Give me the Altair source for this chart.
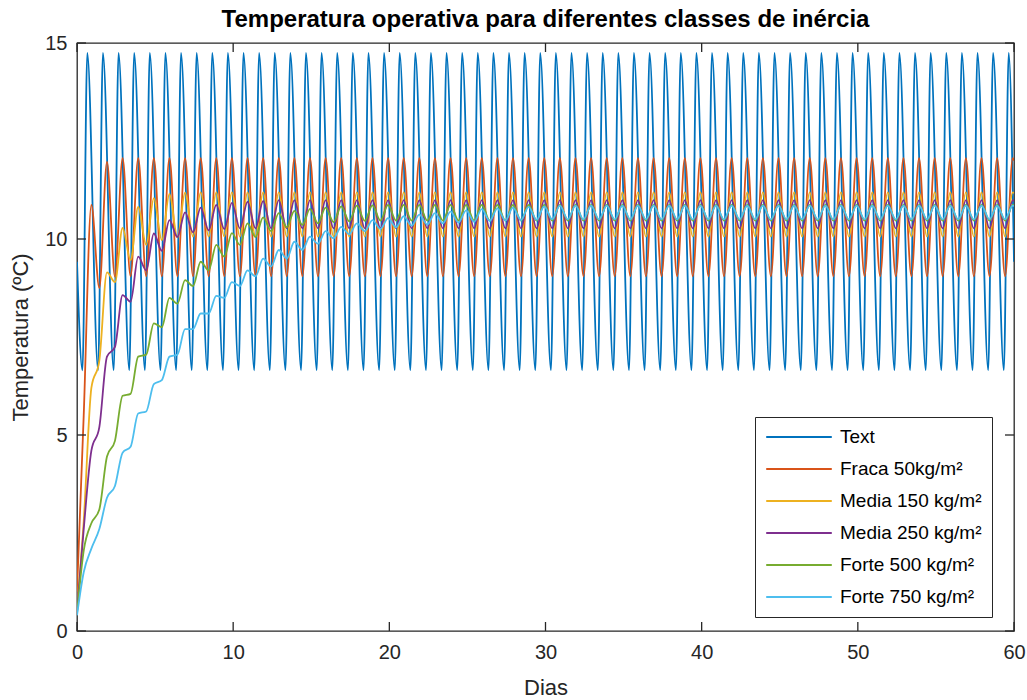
import altair as alt
import pandas as pd

# ---- series definitions -------------------------------------------------
series_names = [
    "Text",
    "Fraca 50kg/m²",
    "Media 150 kg/m²",
    "Media 250 kg/m²",
    "Forte 500 kg/m²",
    "Forte 750 kg/m²",
]
series_colors = ["#0072BD", "#D95319", "#EDB120", "#7E2F8E", "#77AC30", "#4DBEEE"]

# time of day (fraction of a day) of the daily low and high of each series
low_phase = [0.35, 0.43, 0.43, 0.43, 0.43, 0.43]
high_phase = [0.66, 0.92, 0.92, 0.92, 0.92, 0.92]

# value at t = 0 and t = 60 days
start_vals = [9.42, 1.0, 0.6, 0.5, 0.45, 0.4]
end_vals = [9.42, 12.0, 11.17, 10.97, 10.86, 10.84]

# daily lows / highs, day 0 .. 59 (ºC)
text_low = [
    6.65, 6.65, 6.65, 6.65, 6.65, 6.65, 6.65, 6.65, 6.65, 6.65,
    6.65, 6.65, 6.65, 6.65, 6.65, 6.65, 6.65, 6.65, 6.65, 6.65,
    6.65, 6.65, 6.65, 6.65, 6.65, 6.65, 6.65, 6.65, 6.65, 6.65,
    6.65, 6.65, 6.65, 6.65, 6.65, 6.65, 6.65, 6.65, 6.65, 6.65,
    6.65, 6.65, 6.65, 6.65, 6.65, 6.65, 6.65, 6.65, 6.65, 6.65,
    6.65, 6.65, 6.65, 6.65, 6.65, 6.65, 6.65, 6.65, 6.65, 6.65,
]
text_high = [
    14.75, 14.75, 14.75, 14.75, 14.75, 14.75, 14.75, 14.75, 14.75, 14.75,
    14.75, 14.75, 14.75, 14.75, 14.75, 14.75, 14.75, 14.75, 14.75, 14.75,
    14.75, 14.75, 14.75, 14.75, 14.75, 14.75, 14.75, 14.75, 14.75, 14.75,
    14.75, 14.75, 14.75, 14.75, 14.75, 14.75, 14.75, 14.75, 14.75, 14.75,
    14.75, 14.75, 14.75, 14.75, 14.75, 14.75, 14.75, 14.75, 14.75, 14.75,
    14.75, 14.75, 14.75, 14.75, 14.75, 14.75, 14.75, 14.75, 14.75, 14.75,
]
fraca_low = [
    5.5, 8.75, 9.04, 9.05, 9.05, 9.05, 9.05, 9.05, 9.05, 9.05,
    9.05, 9.05, 9.05, 9.05, 9.05, 9.05, 9.05, 9.05, 9.05, 9.05,
    9.05, 9.05, 9.05, 9.05, 9.05, 9.05, 9.05, 9.05, 9.05, 9.05,
    9.05, 9.05, 9.05, 9.05, 9.05, 9.05, 9.05, 9.05, 9.05, 9.05,
    9.05, 9.05, 9.05, 9.05, 9.05, 9.05, 9.05, 9.05, 9.05, 9.05,
    9.05, 9.05, 9.05, 9.05, 9.05, 9.05, 9.05, 9.05, 9.05, 9.05,
]
fraca_high = [
    10.87, 11.97, 12.06, 12.06, 12.06, 12.06, 12.06, 12.06, 12.06, 12.06,
    12.06, 12.06, 12.06, 12.06, 12.06, 12.06, 12.06, 12.06, 12.06, 12.06,
    12.06, 12.06, 12.06, 12.06, 12.06, 12.06, 12.06, 12.06, 12.06, 12.06,
    12.06, 12.06, 12.06, 12.06, 12.06, 12.06, 12.06, 12.06, 12.06, 12.06,
    12.06, 12.06, 12.06, 12.06, 12.06, 12.06, 12.06, 12.06, 12.06, 12.06,
    12.06, 12.06, 12.06, 12.06, 12.06, 12.06, 12.06, 12.06, 12.06, 12.06,
]
media150_low = [
    2.8, 6.9, 8.9, 9.46, 9.85, 9.97, 10.04, 10.06, 10.06, 10.06,
    10.06, 10.06, 10.06, 10.06, 10.06, 10.06, 10.06, 10.06, 10.06, 10.06,
    10.06, 10.06, 10.06, 10.06, 10.06, 10.06, 10.06, 10.06, 10.06, 10.06,
    10.06, 10.06, 10.06, 10.06, 10.06, 10.06, 10.06, 10.06, 10.06, 10.06,
    10.06, 10.06, 10.06, 10.06, 10.06, 10.06, 10.06, 10.06, 10.06, 10.06,
    10.06, 10.06, 10.06, 10.06, 10.06, 10.06, 10.06, 10.06, 10.06, 10.06,
]
media150_high = [
    6.2, 9.15, 10.28, 10.82, 11.04, 11.15, 11.18, 11.19, 11.19, 11.19,
    11.19, 11.19, 11.19, 11.19, 11.19, 11.19, 11.19, 11.19, 11.19, 11.19,
    11.19, 11.19, 11.19, 11.19, 11.19, 11.19, 11.19, 11.19, 11.19, 11.19,
    11.19, 11.19, 11.19, 11.19, 11.19, 11.19, 11.19, 11.19, 11.19, 11.19,
    11.19, 11.19, 11.19, 11.19, 11.19, 11.19, 11.19, 11.19, 11.19, 11.19,
    11.19, 11.19, 11.19, 11.19, 11.19, 11.19, 11.19, 11.19, 11.19, 11.19,
]
media250_low = [
    2.6, 5.2, 7.25, 8.4, 9.2, 9.7, 10.05, 10.17, 10.22, 10.25,
    10.27, 10.27, 10.27, 10.27, 10.27, 10.27, 10.27, 10.27, 10.27, 10.27,
    10.27, 10.27, 10.27, 10.27, 10.27, 10.27, 10.27, 10.27, 10.27, 10.27,
    10.27, 10.27, 10.27, 10.27, 10.27, 10.27, 10.27, 10.27, 10.27, 10.27,
    10.27, 10.27, 10.27, 10.27, 10.27, 10.27, 10.27, 10.27, 10.27, 10.27,
    10.27, 10.27, 10.27, 10.27, 10.27, 10.27, 10.27, 10.27, 10.27, 10.27,
]
media250_high = [
    4.6, 7.0, 8.57, 9.55, 10.14, 10.48, 10.68, 10.8, 10.87, 10.92,
    10.95, 10.97, 10.99, 10.99, 10.99, 10.99, 10.99, 10.99, 10.99, 10.99,
    10.99, 10.99, 10.99, 10.99, 10.99, 10.99, 10.99, 10.99, 10.99, 10.99,
    10.99, 10.99, 10.99, 10.99, 10.99, 10.99, 10.99, 10.99, 10.99, 10.99,
    10.99, 10.99, 10.99, 10.99, 10.99, 10.99, 10.99, 10.99, 10.99, 10.99,
    10.99, 10.99, 10.99, 10.99, 10.99, 10.99, 10.99, 10.99, 10.99, 10.99,
]
forte500_low = [
    2.05, 3.1, 4.85, 6.05, 7.05, 7.75, 8.35, 8.8, 9.2, 9.55,
    9.85, 10.05, 10.2, 10.3, 10.36, 10.4, 10.43, 10.45, 10.46, 10.47,
    10.47, 10.47, 10.47, 10.47, 10.47, 10.47, 10.47, 10.47, 10.47, 10.47,
    10.47, 10.47, 10.47, 10.47, 10.47, 10.47, 10.47, 10.47, 10.47, 10.47,
    10.47, 10.47, 10.47, 10.47, 10.47, 10.47, 10.47, 10.47, 10.47, 10.47,
    10.47, 10.47, 10.47, 10.47, 10.47, 10.47, 10.47, 10.47, 10.47, 10.47,
]
forte500_high = [
    2.75, 4.45, 6.0, 7.0, 7.85, 8.5, 8.95, 9.42, 9.85, 10.15,
    10.4, 10.55, 10.66, 10.72, 10.77, 10.8, 10.83, 10.85, 10.86, 10.87,
    10.87, 10.87, 10.87, 10.87, 10.87, 10.87, 10.87, 10.87, 10.87, 10.87,
    10.87, 10.87, 10.87, 10.87, 10.87, 10.87, 10.87, 10.87, 10.87, 10.87,
    10.87, 10.87, 10.87, 10.87, 10.87, 10.87, 10.87, 10.87, 10.87, 10.87,
    10.87, 10.87, 10.87, 10.87, 10.87, 10.87, 10.87, 10.87, 10.87, 10.87,
]
forte750_low = [
    1.5, 2.6, 3.7, 4.7, 5.6, 6.4, 7.05, 7.7, 8.1, 8.5,
    8.8, 9.05, 9.3, 9.5, 9.72, 9.88, 10.02, 10.12, 10.2, 10.26,
    10.3, 10.34, 10.37, 10.4, 10.42, 10.44, 10.46, 10.47, 10.48, 10.49,
    10.5, 10.5, 10.5, 10.5, 10.5, 10.5, 10.5, 10.5, 10.5, 10.5,
    10.5, 10.5, 10.5, 10.5, 10.5, 10.5, 10.5, 10.5, 10.5, 10.5,
    10.5, 10.5, 10.5, 10.5, 10.5, 10.5, 10.5, 10.5, 10.5, 10.5,
]
forte750_high = [
    2.1, 3.4, 4.55, 5.55, 6.3, 7.0, 7.7, 8.1, 8.55, 8.9,
    9.2, 9.5, 9.72, 9.93, 10.06, 10.2, 10.31, 10.4, 10.48, 10.53,
    10.58, 10.62, 10.66, 10.7, 10.73, 10.76, 10.78, 10.8, 10.82, 10.83,
    10.85, 10.85, 10.85, 10.85, 10.85, 10.85, 10.85, 10.85, 10.85, 10.85,
    10.85, 10.85, 10.85, 10.85, 10.85, 10.85, 10.85, 10.85, 10.85, 10.85,
    10.85, 10.85, 10.85, 10.85, 10.85, 10.85, 10.85, 10.85, 10.85, 10.85,
]

daily_lows = [text_low, fraca_low, media150_low, media250_low, forte500_low, forte750_low]
daily_highs = [text_high, fraca_high, media150_high, media250_high, forte500_high, forte750_high]

x_ticks = [0, 10, 20, 30, 40, 50, 60]
y_ticks = [0, 5, 10, 15]

FONT = "Liberation Sans"
INK = "#262626"
W, H = 937, 588
TICK = 9


def series_frame(i):
    """Time/value pairs of one series: start, daily low/high extremes, end."""
    ts, vs = [0.0], [start_vals[i]]
    for day, (lo, hi) in enumerate(zip(daily_lows[i], daily_highs[i])):
        ts += [day + low_phase[i], day + high_phase[i]]
        vs += [lo, hi]
    ts.append(60.0)
    vs.append(end_vals[i])
    return pd.DataFrame({"t": ts, "v": vs, "serie": series_names[i]})


x_scale = alt.Scale(domain=[0, 60], nice=False, zero=False)
y_scale = alt.Scale(domain=[0, 15], nice=False, zero=False)
color_scale = alt.Scale(domain=series_names, range=series_colors)

# one shared axis definition per channel, repeated in every layer so they merge
x_axis = alt.Axis(values=x_ticks, format="d", title="Dias", labelPadding=11,
                  titlePadding=15, labelFlush=False)
y_axis = alt.Axis(values=y_ticks, format="d", title="Temperatura (ºC)", labelPadding=10,
                  titlePadding=12, labelFlush=False)

legend = alt.Legend(
    title=None,
    orient="none",
    legendX=678,
    legendY=374,
    symbolType="stroke",
    symbolSize=4300,
    symbolStrokeWidth=1.8,
    clipHeight=20,
    rowPadding=12,
    padding=10,
    labelOffset=7,
    labelFont=FONT,
    labelFontSize=19,
    labelColor="black",
    fillColor="white",
    strokeColor=INK,
)

layers = []
for i, name in enumerate(series_names):
    layers.append(
        alt.Chart(series_frame(i))
        .mark_line(interpolate="monotone", strokeWidth=1.8, clip=True)
        .encode(
            x=alt.X("t:Q", scale=x_scale, axis=x_axis),
            y=alt.Y("v:Q", scale=y_scale, axis=y_axis),
            color=alt.Color("serie:N", scale=color_scale, legend=legend),
        )
    )

# inward tick marks on all four sides of the box
xt = pd.DataFrame({"t": x_ticks})
yt = pd.DataFrame({"v": y_ticks})
tick_style = dict(color=INK, strokeWidth=1.3)
bottom_ticks = alt.Chart(xt).mark_rule(**tick_style).encode(
    x=alt.X("t:Q", scale=x_scale, axis=x_axis), y=alt.value(H), y2=alt.value(H - TICK))
top_ticks = alt.Chart(xt).mark_rule(**tick_style).encode(
    x=alt.X("t:Q", scale=x_scale, axis=x_axis), y=alt.value(0), y2=alt.value(TICK))
left_ticks = alt.Chart(yt).mark_rule(**tick_style).encode(
    y=alt.Y("v:Q", scale=y_scale, axis=y_axis), x=alt.value(0), x2=alt.value(TICK))
right_ticks = alt.Chart(yt).mark_rule(**tick_style).encode(
    y=alt.Y("v:Q", scale=y_scale, axis=y_axis), x=alt.value(W), x2=alt.value(W - TICK))

chart = (
    alt.layer(*layers, bottom_ticks, top_ticks, left_ticks, right_ticks)
    .properties(
        width=W,
        height=H,
        title=alt.Title(
            "Temperatura operativa para diferentes classes de inércia",
            font=FONT,
            fontSize=24,
            fontWeight="bold",
            color="black",
            anchor="middle",
            offset=1,
        ),
        autosize=alt.AutoSizeParams(type="none"),
        padding={"left": 77, "top": 43, "right": 13, "bottom": 69},
        background="white",
    )
    .configure_view(stroke=INK, strokeWidth=1.3)
    .configure_axis(
        labelFont=FONT,
        labelFontSize=20,
        labelColor=INK,
        titleFont=FONT,
        titleFontSize=22,
        titleFontWeight="normal",
        titleColor=INK,
        grid=False,
        domain=False,
        ticks=False,
    )
)

chart.save("out.html", embed_options={"renderer": "svg", "actions": False})
